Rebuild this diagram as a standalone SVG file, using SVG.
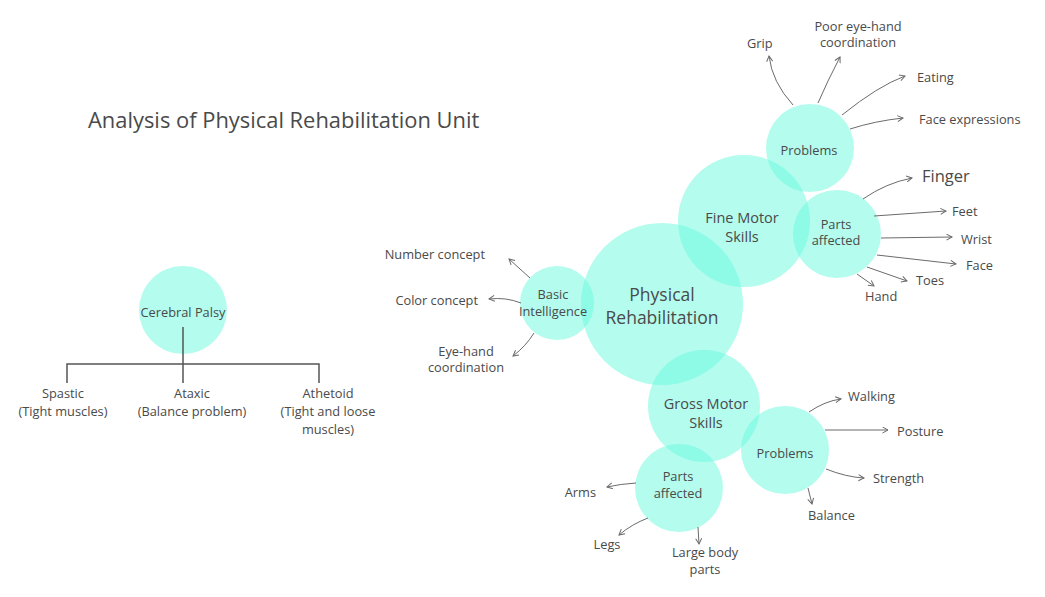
<svg xmlns="http://www.w3.org/2000/svg" width="1045" height="597" viewBox="0 0 1045 597">
<defs>
<marker id="ah" markerWidth="8" markerHeight="8" refX="6" refY="3.5" orient="auto" markerUnits="userSpaceOnUse">
<path d="M0.5,0.5 L6,3.5 L0.5,6.5" fill="none" stroke="#6b6b6b" stroke-width="1"/>
</marker>
<style>
.c{fill:#67f9dd;fill-opacity:0.5}
.t{font-family:"Open Sans","Noto Sans",sans-serif;fill:#4a4a4a;font-size:12.8px}
.m{text-anchor:middle}
.e{text-anchor:end}
.a{fill:none;stroke:#6b6b6b;stroke-width:1;marker-end:url(#ah)}
.l{fill:none;stroke:#555;stroke-width:1.5}
</style>
</defs>
<rect width="1045" height="597" fill="#fff"/>
<text class="t" x="88" y="128" style="font-size:21.9px">Analysis of Physical Rehabilitation Unit</text>

<g id="cerebral-palsy">
<circle class="c" cx="183" cy="310" r="44"/>
<text class="t m" x="183" y="317">Cerebral Palsy</text>
</g>
<g id="cp-tree">
<path class="l" d="M183,327 V383 M67,383 V364 H319 V383"/>
</g>
<g id="spastic"><text class="t m" x="63" y="398">Spastic</text><text class="t m" x="63" y="416">(Tight muscles)</text></g>
<g id="ataxic"><text class="t m" x="192" y="398">Ataxic</text><text class="t m" x="192" y="416">(Balance problem)</text></g>
<g id="athetoid"><text class="t m" x="328" y="398">Athetoid</text><text class="t m" x="328" y="416">(Tight and loose</text><text class="t m" x="328" y="434">muscles)</text></g>

<g id="physical-rehabilitation">
<circle class="c" cx="662" cy="304" r="81"/>
<text class="t m" x="662" y="301" style="font-size:17.5px">Physical</text>
<text class="t m" x="662" y="324" style="font-size:17.5px">Rehabilitation</text>
</g>
<g id="fine-motor">
<circle class="c" cx="744" cy="221" r="66"/>
<text class="t m" x="742" y="223" style="font-size:14.5px">Fine Motor</text>
<text class="t m" x="742" y="242" style="font-size:14.5px">Skills</text>
</g>
<g id="fine-problems">
<circle class="c" cx="810" cy="148" r="44"/>
<text class="t m" x="809" y="155">Problems</text>
</g>
<g id="fine-parts">
<circle class="c" cx="837" cy="234" r="44"/>
<text class="t m" x="836" y="229">Parts</text>
<text class="t m" x="836" y="245">affected</text>
</g>
<g id="basic-intelligence">
<circle class="c" cx="557" cy="303" r="37"/>
<text class="t m" x="553" y="299">Basic</text>
<text class="t m" x="553" y="316">Intelligence</text>
</g>
<g id="gross-motor">
<circle class="c" cx="704" cy="406" r="56"/>
<text class="t m" x="706" y="409" style="font-size:14.5px">Gross Motor</text>
<text class="t m" x="706" y="428" style="font-size:14.5px">Skills</text>
</g>
<g id="gross-problems">
<circle class="c" cx="785" cy="450" r="44"/>
<text class="t m" x="785" y="458">Problems</text>
</g>
<g id="gross-parts">
<circle class="c" cx="679" cy="488" r="44"/>
<text class="t m" x="678" y="481">Parts</text>
<text class="t m" x="678" y="498">affected</text>
</g>

<g id="connectors">
<path class="a" d="M793,105 Q772,82 769,56"/>
<path class="a" d="M818,103 Q827,82 840,57"/>
<path class="a" d="M842,115 Q878,86 905,76"/>
<path class="a" d="M850,129 Q875,121 903,118"/>
<path class="a" d="M863,199 Q886,183 912,178"/>
<path class="a" d="M874,216 L946,211"/>
<path class="a" d="M881,238 L952,237"/>
<path class="a" d="M877,255 L956,264"/>
<path class="a" d="M867,267 L907,281"/>
<path class="a" d="M857,274 L874,286"/>
<path class="a" d="M530,278 L509,259"/>
<path class="a" d="M521,303 Q506,297 489,299"/>
<path class="a" d="M534,333 Q526,346 513,356"/>
<path class="a" d="M809,412 Q825,401 841,399"/>
<path class="a" d="M825,430 L888,430"/>
<path class="a" d="M826,469 Q846,477 864,478"/>
<path class="a" d="M808,488 Q810,496 812,504"/>
<path class="a" d="M636,483 Q620,484 607,487"/>
<path class="a" d="M648,518 Q632,524 619,535"/>
<path class="a" d="M698,527 L699,544"/>
</g>

<g id="labels">
<text class="t" x="747" y="48">Grip</text>
<text class="t m" x="858" y="31">Poor eye-hand</text>
<text class="t m" x="858" y="47">coordination</text>
<text class="t" x="917" y="82">Eating</text>
<text class="t" x="919" y="124">Face expressions</text>
<text class="t" x="922" y="182" style="font-size:16.5px">Finger</text>
<text class="t" x="952" y="216">Feet</text>
<text class="t" x="961" y="244">Wrist</text>
<text class="t" x="966" y="270">Face</text>
<text class="t" x="916" y="285">Toes</text>
<text class="t" x="865" y="301">Hand</text>
<text class="t e" x="485" y="259">Number concept</text>
<text class="t e" x="478" y="305">Color concept</text>
<text class="t m" x="466" y="356">Eye-hand</text>
<text class="t m" x="466" y="372">coordination</text>
<text class="t" x="848" y="401">Walking</text>
<text class="t" x="897" y="436">Posture</text>
<text class="t" x="873" y="483">Strength</text>
<text class="t" x="808" y="520">Balance</text>
<text class="t e" x="596" y="497">Arms</text>
<text class="t m" x="607" y="549">Legs</text>
<text class="t m" x="705" y="557">Large body</text>
<text class="t m" x="705" y="574">parts</text>
</g>
</svg>
